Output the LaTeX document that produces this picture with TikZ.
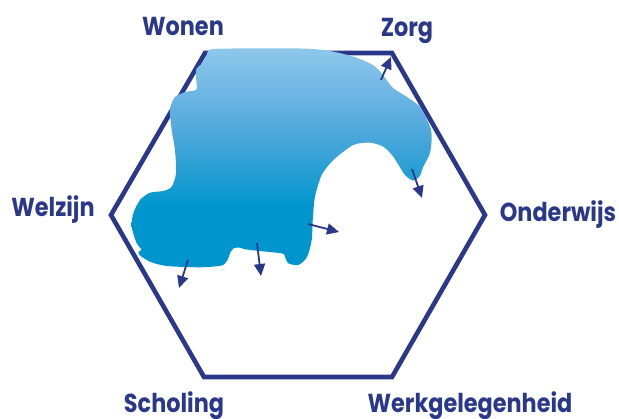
\documentclass[tikz,border=0pt]{standalone}
\usepackage{fontspec}
\newfontfamily\lblfont{Poppins}[FakeStretch=0.86]
\usetikzlibrary{arrows.meta}
\definecolor{navy}{RGB}{42,56,138}
\definecolor{blight}{RGB}{142,199,235}
\definecolor{bmid}{RGB}{80,168,220}
\definecolor{bdark}{RGB}{0,150,205}
\pgfdeclareverticalshading{blobshade}{100bp}{color(0bp)=(bdark); color(25bp)=(bdark); color(39bp)=(bdark); color(56bp)=(bmid); color(75bp)=(blight); color(100bp)=(blight)}
\tikzset{
  lbl/.style={text=navy, font=\lblfont\bfseries\fontsize{26}{28}\selectfont, anchor=base, inner sep=0pt},
  hexline/.style={draw=navy, line width=4.6pt, line join=miter},
  arr/.style={draw=navy, line width=1.8pt, -{Triangle[length=12pt,width=11pt]}},
}
\begin{document}
\begin{tikzpicture}[x=1pt,y=-1pt]
\useasboundingbox (0,0) rectangle (619,419);
% hexagon
\coordinate (h1) at (205,53);
\coordinate (h2) at (392,53);
\coordinate (h3) at (485,215);
\coordinate (h4) at (392,377);
\coordinate (h5) at (204,377);
\coordinate (h6) at (111,215);
\draw[hexline] (h1) -- (h2) -- (h3) -- (h4) -- (h5) -- (h6) -- cycle;
% blob
\path[shading=blobshade] plot[smooth cycle, tension=0.45] coordinates {
 (210,49.5) (233,48.5) (300,48.5) (327,50.5) (353,56.5) (373,65) (383,75) (393,88) (407,97) (420,107) (430,126.5)
 (431.7,137) (430,153) (423.3,166.7) (419.5,176.5) (413.3,180.5) (405,175) (393.3,156.7) (383.3,146.7) (370,142.7) (353.3,145)
 (333.3,160) (321.7,175) (315,196.7) (312.7,220) (311.7,240) (307,257) (298.3,265) (288.3,263.3) (285,257) (282,253.5)
 (256.7,250.7) (245,249.3) (239,247.5) (233.3,248.5) (230,253.3) (227.5,260) (221.7,265.5) (200,267.3) (166.7,266)
 (150,261.7) (140,255.5) (138.5,252) (141.5,249.5) (136.7,243.3) (131.7,226.7) (133.3,213.3) (140,200) (150,192.7)
 (163.3,191) (171.7,186.7) (176,173.3) (175,150) (171.7,130) (170,110) (175,97) (186.7,91.7) (196.5,89.5) (196,77)
 (196.7,68.3) (201.7,64) (206.7,55)
};
% arrows
\coordinate (a1s) at (381,80);  \coordinate (a1e) at (391,57);
\coordinate (a2s) at (412,169); \coordinate (a2e) at (422,198);
\coordinate (a3s) at (308,224); \coordinate (a3e) at (339,232);
\coordinate (a4s) at (257,243); \coordinate (a4e) at (261,276);
\coordinate (a5s) at (188,260); \coordinate (a5e) at (179,288);
\draw[arr] (a1s) -- (a1e);
\draw[arr] (a2s) -- (a2e);
\draw[arr] (a3s) -- (a3e);
\draw[arr] (a4s) -- (a4e);
\draw[arr] (a5s) -- (a5e);
% labels
\node[lbl] (wonen) at (183,36) {Wonen};
\node[lbl] (zorg) at (407,37) {Zorg};
\node[lbl] (welzijn) at (53,217) {Welzijn};
\node[lbl] (onderwijs) at (558,222) {Onderwijs};
\node[lbl] (scholing) at (174,413) {Scholing};
\node[lbl] (werk) at (470,413) {Werkgelegenheid};
\end{tikzpicture}
\end{document}
